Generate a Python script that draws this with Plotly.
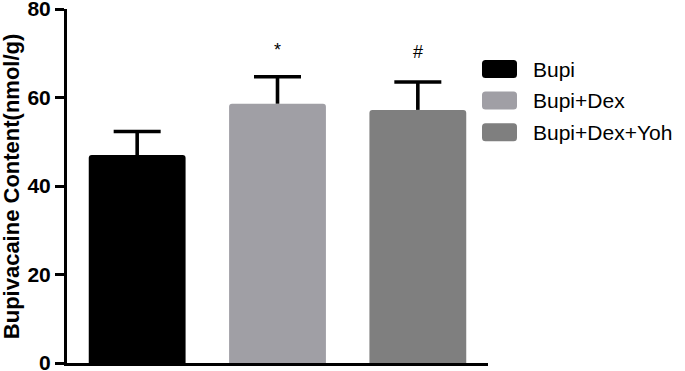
import plotly.graph_objects as go

groups = ["Bupi", "Bupi+Dex", "Bupi+Dex+Yoh"]
means = [47.0, 58.6, 57.2]
sems = [5.3, 6.1, 6.3]
sig_marks = ["", "*", "#"]
sig_y = [None, 70.7, 70.3]
colors = ["#000000", "#A09FA5", "#7F7F7F"]
y_ticks = [0, 20, 40, 60, 80]

FONT = "Liberation Sans, Arial, sans-serif"
W, H = 685, 371
ML, MR, MT, MB = 67, 197, 9, 8
PW, PH = W - ML - MR, H - MT - MB
X_RANGE = [-0.5, 2.5]
CAP_HALF = 23.5 / (PW / (X_RANGE[1] - X_RANGE[0]))  # cap half-width in x units

xpos = list(range(len(groups)))

fig = go.Figure()
fig.add_trace(go.Bar(
    x=xpos, y=means,
    marker=dict(color=colors, line=dict(width=0), cornerradius=3),
    width=0.69, showlegend=False, hoverinfo="skip",
))

# error bars (upper only, cap at the top only)
ex, ey = [], []
for i, (m, s) in enumerate(zip(means, sems)):
    ex += [i, i, None, i - CAP_HALF, i + CAP_HALF, None]
    ey += [m, m + s, None, m + s, m + s, None]
fig.add_trace(go.Scatter(x=ex, y=ey, mode="lines", line=dict(color="#000", width=3.6),
                         showlegend=False, hoverinfo="skip"))

annotations = []
for i, (m, yy) in enumerate(zip(sig_marks, sig_y)):
    if m:
        annotations.append(dict(x=i, y=yy, xref="x", yref="y", text=m, showarrow=False,
                                font=dict(family=FONT, size=18, color="#000"),
                                xanchor="center", yanchor="middle"))

# y-axis title
annotations.append(dict(x=(11.2 - ML) / PW, y=0.5, xref="paper", yref="paper",
                        text="<b>Bupivacaine Content(nmol/g)</b>", textangle=-90,
                        showarrow=False, font=dict(family=FONT, size=22, color="#000"),
                        xanchor="center", yanchor="middle"))

# custom legend (rounded swatches + labels)
def rounded_rect(x0, y0, x1, y1, r):
    rx, ry = r / PW, r / PH
    X0, X1 = (x0 - ML) / PW, (x1 - ML) / PW
    Yt, Yb = (H - MB - y0) / PH, (H - MB - y1) / PH
    return (f"M{X0+rx},{Yt} L{X1-rx},{Yt} Q{X1},{Yt} {X1},{Yt-ry} "
            f"L{X1},{Yb+ry} Q{X1},{Yb} {X1-rx},{Yb} L{X0+rx},{Yb} Q{X0},{Yb} {X0},{Yb+ry} "
            f"L{X0},{Yt-ry} Q{X0},{Yt} {X0+rx},{Yt} Z")

shapes = []
leg_x0, leg_x1, leg_text_x = 482, 517, 531
row_y0, row_step, sw_h = 69, 31.6, 18
for i, (g, c) in enumerate(zip(groups, colors)):
    cy = row_y0 + i * row_step
    shapes.append(dict(type="path", xref="paper", yref="paper",
                       path=rounded_rect(leg_x0, cy - sw_h / 2, leg_x1, cy + sw_h / 2, 3.5),
                       fillcolor=c, line=dict(width=0), layer="above"))
    annotations.append(dict(x=(leg_text_x - ML) / PW, y=(H - MB - cy) / PH,
                            xref="paper", yref="paper", text=g, showarrow=False,
                            font=dict(family=FONT, size=21, color="#000"),
                            xanchor="left", yanchor="middle"))

fig.update_layout(
    width=W, height=H,
    margin=dict(l=ML, r=MR, t=MT, b=MB, pad=0, autoexpand=False),
    plot_bgcolor="white", paper_bgcolor="white",
    xaxis=dict(range=X_RANGE, showticklabels=False, ticks="", showgrid=False, automargin=False,
               zeroline=False, showline=True, linecolor="#000", linewidth=3),
    yaxis=dict(range=[0, 80], tickvals=y_ticks, ticks="outside", ticklen=9, tickwidth=3,
               tickcolor="#000", showgrid=False, zeroline=False, showline=True,
               linecolor="#000", linewidth=3, ticklabeloverflow="allow", automargin=False,
               tickfont=dict(family=FONT, size=21, color="#000", weight="bold")),
    annotations=annotations, shapes=shapes,
    hovermode=False,
)

fig.write_html("out.html", config={"displayModeBar": False},
               post_script="document.body.style.margin='0';document.body.style.overflow='hidden';")
